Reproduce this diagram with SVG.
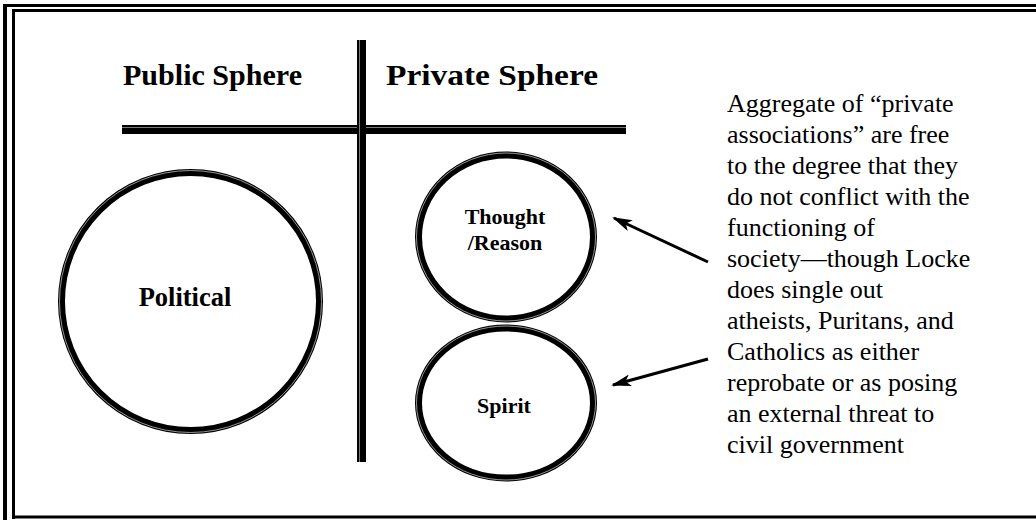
<svg xmlns="http://www.w3.org/2000/svg" width="1036" height="520" viewBox="0 0 1036 520">
  <defs>
    <style>
      .frame { stroke: #000; fill: none; }
      .gap { stroke: #9a9a9a; fill: none; stroke-width: 0.8; }
      .ring { fill: #fff; stroke: #000; stroke-width: 7; }
      .ringgap { fill: none; stroke: #bbb; stroke-width: 0.8; }
      .head { font-family: "Liberation Serif", "Times New Roman", serif; font-weight: bold; font-size: 30px; fill: #000; }
      .label { font-family: "Liberation Serif", "Times New Roman", serif; font-weight: bold; fill: #000; text-anchor: middle; }
      .body { font-family: "Liberation Serif", "Times New Roman", serif; font-size: 26px; fill: #000; }
      .conn { stroke: #000; stroke-width: 3; fill: none; marker-end: url(#arrow); }
    </style>
    <marker id="arrow" viewBox="0 0 20 12" refX="18" refY="6" markerWidth="20" markerHeight="12" markerUnits="userSpaceOnUse" orient="auto">
      <path d="M0,0 L20,6 L0,12 L5,6 Z" fill="#000"/>
    </marker>
  </defs>
  <rect width="1036" height="520" fill="#fff"/>

  <!-- frame -->
  <g id="frame">
    <line class="frame" x1="3" y1="5.5" x2="1036" y2="5.5" stroke-width="3"/>
    <line class="frame" x1="5" y1="4" x2="5" y2="520" stroke-width="4"/>
    <line class="frame" x1="12" y1="10.5" x2="1036" y2="10.5" stroke-width="3"/>
    <line class="frame" x1="13.5" y1="9" x2="13.5" y2="519" stroke-width="3"/>
    <line class="frame" x1="12" y1="517" x2="1036" y2="517" stroke-width="3"/>
  </g>

  <!-- divider lines -->
  <g id="divider">
    <rect x="122" y="125" width="504" height="9" fill="#000"/>
    <line class="gap" x1="122" y1="127.5" x2="626" y2="127.5"/>
    <rect x="357" y="40" width="9" height="422" fill="#000"/>
    <line class="gap" x1="359.5" y1="40" x2="359.5" y2="462"/>
  </g>

  <g id="heading-public">
    <text class="head" x="123" y="85" textLength="179" lengthAdjust="spacingAndGlyphs">Public Sphere</text>
  </g>
  <g id="heading-private">
    <text class="head" x="386" y="85" textLength="212" lengthAdjust="spacingAndGlyphs">Private Sphere</text>
  </g>

  <g id="political">
    <circle class="ring" cx="190.5" cy="301.5" r="129"/>
    <circle class="ringgap" cx="190.5" cy="301.5" r="131"/>
    <text class="label" x="185" y="306" font-size="26.5">Political</text>
  </g>

  <g id="thought">
    <ellipse class="ring" cx="506" cy="237" rx="87.5" ry="82"/>
    <ellipse class="ringgap" cx="506" cy="237" rx="89.5" ry="84"/>
    <text class="label" x="505" y="224" font-size="22">Thought</text>
    <text class="label" x="505" y="250" font-size="22">/Reason</text>
  </g>

  <g id="spirit">
    <ellipse class="ring" cx="506" cy="403" rx="87.5" ry="75"/>
    <ellipse class="ringgap" cx="506" cy="403" rx="89.5" ry="77"/>
    <text class="label" x="504" y="413" font-size="22">Spirit</text>
  </g>

  <g id="note">
    <text class="body" x="727">
      <tspan x="727" y="112">Aggregate of “private</tspan>
      <tspan x="727" y="143">associations” are free</tspan>
      <tspan x="727" y="174">to the degree that they</tspan>
      <tspan x="727" y="205">do not conflict with the</tspan>
      <tspan x="727" y="236">functioning of</tspan>
      <tspan x="727" y="267">society—though Locke</tspan>
      <tspan x="727" y="298">does single out</tspan>
      <tspan x="727" y="329">atheists, Puritans, and</tspan>
      <tspan x="727" y="360">Catholics as either</tspan>
      <tspan x="727" y="391">reprobate or as posing</tspan>
      <tspan x="727" y="422">an external threat to</tspan>
      <tspan x="727" y="453">civil government</tspan>
    </text>
  </g>

  <g id="connectors">
    <line class="conn" x1="708" y1="262" x2="614" y2="218"/>
    <line class="conn" x1="708" y1="359" x2="613" y2="385"/>
  </g>
</svg>
